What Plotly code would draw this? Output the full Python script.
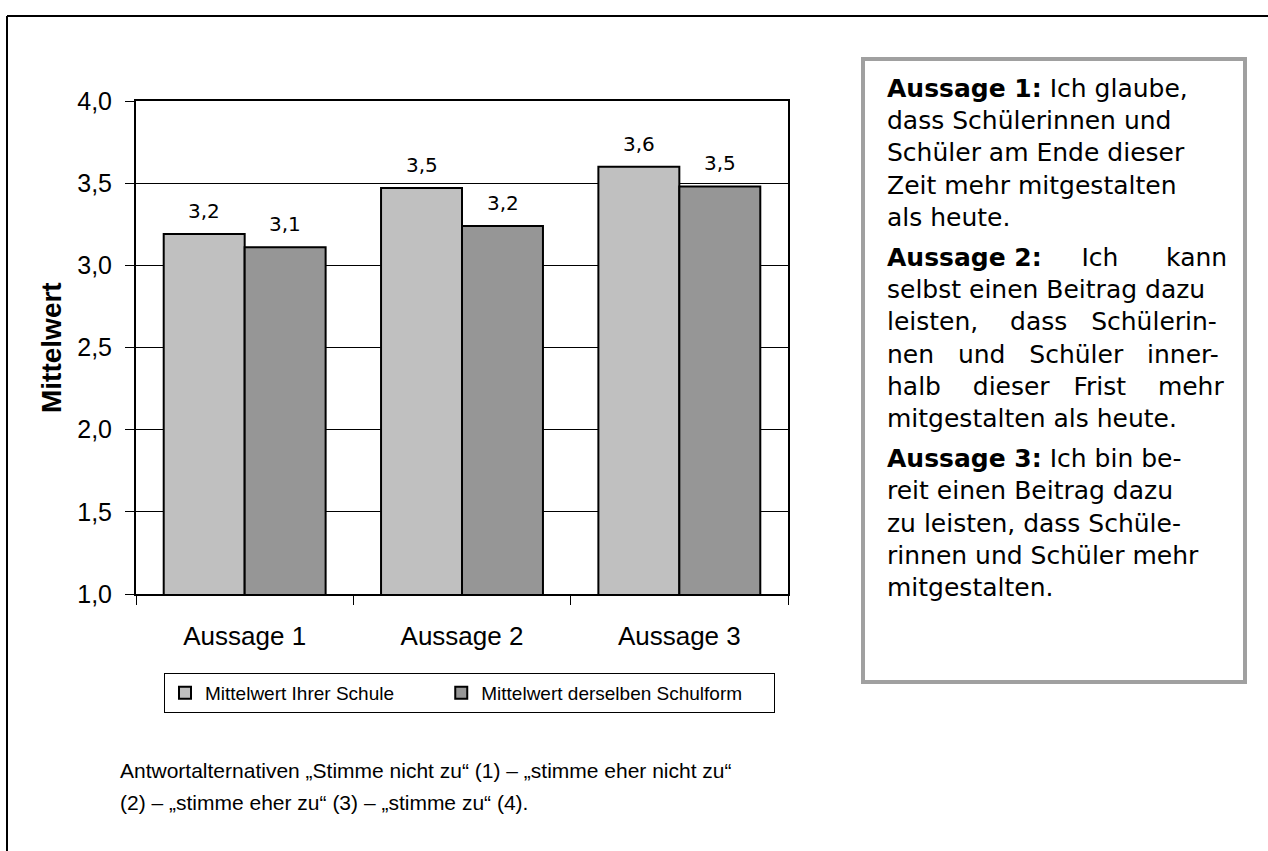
import plotly.graph_objects as go

# ---------------- data ----------------
categories = ["Aussage 1", "Aussage 2", "Aussage 3"]
schule = [3.19, 3.47, 3.60]
schulform = [3.11, 3.24, 3.48]
series_names = ["Mittelwert Ihrer Schule", "Mittelwert derselben Schulform"]
y_ticks = [1.0, 1.5, 2.0, 2.5, 3.0, 3.5, 4.0]
y_title = "Mittelwert"

NB = "\u00a0"
box_paragraphs = [
    ["<b>Aussage 1:</b> Ich glaube,",
     "dass Schülerinnen und",
     "Schüler am Ende dieser",
     "Zeit mehr mitgestalten",
     "als heute."],
    ["<b>Aussage 2:</b>" + NB * 5 + "Ich" + NB * 6 + "kann",
     "selbst einen Beitrag dazu",
     "leisten," + NB * 4 + "dass" + NB * 3 + "Schülerin-",
     "nen" + NB * 3 + "und" + NB * 3 + "Schüler" + NB * 3 + "inner-",
     "halb" + NB * 4 + "dieser" + NB * 3 + "Frist" + NB * 4 + "mehr",
     "mitgestalten als heute."],
    ["<b>Aussage 3:</b> Ich bin be-",
     "reit einen Beitrag dazu",
     "zu leisten, dass Schüle-",
     "rinnen und Schüler mehr",
     "mitgestalten."],
]
footnote = ["Antwortalternativen „Stimme nicht zu“ (1) – „stimme eher nicht zu“",
            "(2) – „stimme eher zu“ (3) – „stimme zu“ (4)."]

# ---------------- layout geometry (pixels) ----------------
W, H = 1268, 851
L, R, T, B = 136, 788, 101, 594


def px(x):
    return (x - L) / (R - L)


def py(y):
    return (B - y) / (B - T)


def fmt(v):
    return f"{v:.1f}".replace(".", ",")


fig = go.Figure()
fig.add_bar(x=categories, y=schule, name=series_names[0] + NB * 8,
            marker=dict(color="#C0C0C0", line=dict(color="black", width=2)))
fig.add_bar(x=categories, y=schulform, name=series_names[1] + NB * 5,
            marker=dict(color="#969696", line=dict(color="black", width=2)))

annotations = []
# value labels
for vals, sh in ((schule, -40.5), (schulform, 40.5)):
    for c, v in zip(categories, vals):
        annotations.append(dict(x=c, y=v, xref="x", yref="y", text=fmt(v),
                                showarrow=False, xshift=sh, yshift=23,
                                xanchor="center", yanchor="middle",
                                font=dict(family="DejaVu Sans", size=20, color="black")))

# y-axis title
annotations.append(dict(x=px(51), y=py(348), xref="paper", yref="paper", text=f"<b>{y_title}</b>",
                        textangle=-90, showarrow=False, xanchor="center", yanchor="middle",
                        font=dict(family="Liberation Sans", size=28, color="black")))

# text box content
ypos = 88
for para in box_paragraphs:
    for line in para:
        annotations.append(dict(x=px(885), y=py(ypos), xref="paper", yref="paper", text=line,
                                showarrow=False, xanchor="left", yanchor="middle", align="left",
                                font=dict(family="DejaVu Sans", size=25, color="black")))
        ypos += 32.4
    ypos += 7

# footnote
for i, line in enumerate(footnote):
    annotations.append(dict(x=px(118), y=py(770 + i * 32), xref="paper", yref="paper", text=line,
                            showarrow=False, xanchor="left", yanchor="middle", align="left",
                            font=dict(family="Liberation Sans", size=21, color="black")))

shapes = [
    # text box frame
    dict(type="rect", xref="paper", yref="paper", x0=px(863), x1=px(1245), y0=py(682), y1=py(59),
         line=dict(color="#A0A0A0", width=4), fillcolor="rgba(0,0,0,0)", layer="above"),
    # outer page frame (top + left)
    dict(type="line", xref="paper", yref="paper", x0=px(7), x1=px(1300), y0=py(16), y1=py(16),
         line=dict(color="black", width=2)),
    dict(type="line", xref="paper", yref="paper", x0=px(7), x1=px(7), y0=py(16), y1=py(900),
         line=dict(color="black", width=2)),
]

fig.update_layout(
    width=W, height=H,
    margin=dict(l=L, r=W - R, t=T, b=H - B, autoexpand=False),
    paper_bgcolor="white", plot_bgcolor="white",
    separators=",.",
    barmode="group", bargap=0.255, bargroupgap=0,
    showlegend=True,
    legend=dict(orientation="h", x=px(164), y=py(673), xanchor="left", yanchor="top",
                bordercolor="black", borderwidth=1, bgcolor="white",
                font=dict(family="Liberation Sans", size=19, color="black"),
                itemwidth=30, tracegroupgap=0),
    annotations=annotations,
    shapes=shapes,
    xaxis=dict(showline=True, linecolor="black", linewidth=2, mirror=True,
               ticks="outside", tickson="boundaries", ticklen=9, tickcolor="black", tickwidth=1,
               tickfont=dict(family="Liberation Sans", size=26, color="black"),
               ticklabelstandoff=18, showgrid=False),
    yaxis=dict(range=[1, 4], tickvals=y_ticks, tickformat=".1f",
               showline=True, linecolor="black", linewidth=2, mirror=True,
               ticks="outside", ticklen=9, tickcolor="black", tickwidth=1,
               tickfont=dict(family="Liberation Sans", size=25, color="black"),
               ticklabelstandoff=8,
               showgrid=True, gridcolor="black", gridwidth=1, zeroline=False),
)

fig.write_html("out.html", config={"displayModeBar": False},
               post_script="document.body.style.margin='0';document.body.style.overflow='hidden';")
